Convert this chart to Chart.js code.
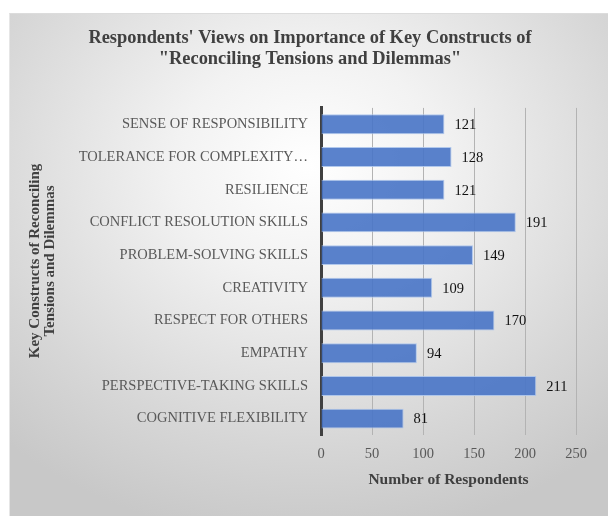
<!DOCTYPE html>
<html>
<head>
<meta charset="utf-8">
<script src="https://cdn.jsdelivr.net/npm/chart.js@4"></script>
<style>
    body { margin: 0; background: #ffffff; }
    #panel {
        position: absolute; left: 9px; top: 13px; width: 599px; height: 503px;
        background: radial-gradient(ellipse 75% 75% at 50% 30%, #ffffff 0%, #f2f2f2 30%, #d6d6d6 75%, #c8c8c8 100%);
        border-top: 1px solid #dcdcdc; border-left: 1px solid #e6e6e6;
        box-sizing: border-box;
    }
    #chart { position: absolute; left: 0; top: 0; }
</style>
</head>
<body>
<div id="panel"></div>
<canvas id="chart" width="608" height="516"></canvas>
<script>
    // constructs, listed top to bottom as in the picture
    var constructs = [
        'SENSE OF RESPONSIBILITY',
        'TOLERANCE FOR COMPLEXITY\u2026',
        'RESILIENCE',
        'CONFLICT RESOLUTION SKILLS',
        'PROBLEM-SOLVING SKILLS',
        'CREATIVITY',
        'RESPECT FOR OTHERS',
        'EMPATHY',
        'PERSPECTIVE-TAKING SKILLS',
        'COGNITIVE FLEXIBILITY'
    ];
    var respondents = [121, 128, 121, 191, 149, 109, 170, 94, 211, 81];
    var xTicks = [0, 50, 100, 150, 200, 250];

    var chartTitle = ['Respondents\' Views on Importance of Key Constructs of', '"Reconciling Tensions and Dilemmas"'];
    var xTitle = 'Number of Respondents';
    var yTitle = ['Key Constructs of Reconciling', 'Tensions and Dilemmas'];

    var serif = '"Liberation Serif", "Times New Roman", serif';

    // value labels at the end of each bar
    var valueLabels = {
        id: 'valueLabels',
        afterDatasetsDraw: function (chart) {
            var ctx = chart.ctx;
            var meta = chart.getDatasetMeta(0);
            ctx.save();
            ctx.font = '14.5px ' + serif;
            ctx.fillStyle = '#111111';
            ctx.textAlign = 'left';
            ctx.textBaseline = 'middle';
            meta.data.forEach(function (bar, i) {
                ctx.fillText(String(respondents[i]), bar.x + 10, bar.y + 1);
            });
            ctx.restore();
        }
    };

    // rotated y axis title, centred on the whole chart like the original
    var yAxisTitle = {
        id: 'yAxisTitle',
        afterDraw: function (chart) {
            var ctx = chart.ctx;
            ctx.save();
            ctx.translate(42, 261);
            ctx.rotate(-Math.PI / 2);
            ctx.font = 'bold 15px ' + serif;
            ctx.fillStyle = '#404040';
            ctx.textAlign = 'center';
            ctx.textBaseline = 'middle';
            ctx.fillText(yTitle[0], 0, -7);
            ctx.fillText(yTitle[1], 0, 8);
            ctx.restore();
        }
    };

    new Chart(document.getElementById('chart').getContext('2d'), {
        type: 'bar',
        data: {
            labels: constructs,
            datasets: [{
                label: xTitle,
                data: respondents,
                backgroundColor: 'rgba(72, 116, 199, 0.9)',
                borderColor: 'rgba(170, 195, 235, 0.9)',
                borderWidth: 1,
                barPercentage: 0.61,
                categoryPercentage: 1
            }]
        },
        options: {
            indexAxis: 'y',
            responsive: false,
            animation: false,
            // left padding only centres the chart title; the plot still starts at x=321
            layout: { padding: { left: 44, right: 32, top: 0, bottom: 0 } },
            plugins: {
                legend: { display: false },
                tooltip: { enabled: false },
                title: {
                    display: true,
                    text: chartTitle,
                    color: '#404040',
                    font: { family: serif, size: 18.4, weight: 'bold', lineHeight: 1.15 },
                    padding: { top: 28, bottom: 37.6 }
                }
            },
            scales: {
                x: {
                    min: 0,
                    max: 250,
                    afterBuildTicks: function (scale) {
                        scale.ticks = xTicks.map(function (v) { return { value: v }; });
                    },
                    afterFit: function (scale) {
                        scale.height = 81;
                    },
                    grid: { color: '#b3b3b3', lineWidth: 1, drawTicks: false },
                    border: { display: false },
                    ticks: {
                        color: '#595959',
                        padding: 10,
                        font: { family: serif, size: 14.5 }
                    },
                    title: {
                        display: true,
                        text: xTitle,
                        color: '#404040',
                        font: { family: serif, size: 15.5, weight: 'bold', lineHeight: 1.2 },
                        padding: { top: 0, bottom: 27 }
                    }
                },
                y: {
                    afterFit: function (scale) {
                        scale.width = 321 - 44;
                    },
                    grid: { display: false, drawTicks: false },
                    border: { display: true, color: '#404040', width: 3 },
                    ticks: {
                        color: '#595959',
                        padding: 13,
                        font: { family: serif, size: 14.5 }
                    }
                }
            }
        },
        plugins: [valueLabels, yAxisTitle]
    });
</script>
</body>
</html>
